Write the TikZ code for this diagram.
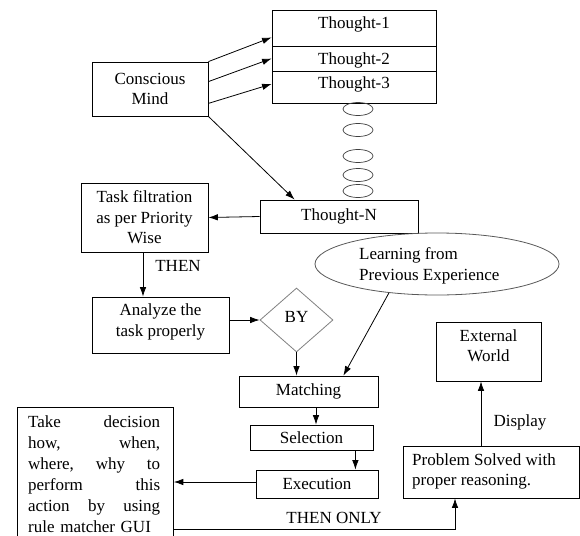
\documentclass[tikz,border=0pt]{standalone}
\usepackage{fontspec}
\setmainfont{Liberation Serif}
\usetikzlibrary{shapes.geometric,arrows.meta,calc}

\tikzset{
  box/.style={draw=black, line width=0.8pt, rectangle, inner sep=2pt, align=center},
  bubble/.style={draw=black!75, line width=0.7pt, ellipse, minimum width=30pt, minimum height=13pt, inner sep=0pt},
  arr/.style={draw=black, line width=0.8pt, -{Latex[length=9.5pt,width=6.5pt]}},
  lbl/.style={inner sep=0pt, align=center},
}

\begin{document}
\begin{tikzpicture}[x=1pt, y=-1pt, font=\fontsize{17}{20.5}\selectfont]
  \clip (0,0) rectangle (580,535);
  \fill[white] (0,0) rectangle (580,535);

  % source
  \node[box, minimum width=116pt, minimum height=54pt] (mind) at (150,89) {Conscious\\Mind};

  % stack of thoughts
  \node[box, minimum width=164pt, minimum height=36pt] (t1) at (354,28) {};
  \node[lbl] (t1l) at (354,24) {Thought-1};
  \node[box, minimum width=164pt, minimum height=25pt] (t2) at (354,58.5) {};
  \node[lbl] (t2l) at (354,60) {Thought-2};
  \node[box, minimum width=164pt, minimum height=32pt] (t3) at (354,87) {};
  \node[lbl] (t3l) at (354,84) {Thought-3};

  % chain of bubbles down to Thought-N
  \node[bubble] (b1) at (358,109) {};
  \node[bubble] (b2) at (358,130) {};
  \node[bubble] (b3) at (358,156) {};
  \node[bubble] (b4) at (358,175) {};
  \node[bubble] (b5) at (358,191) {};

  \node[box, minimum width=158pt, minimum height=33pt] (tn) at (339,216.5) {Thought-N};

  % learning ellipse
  \node[draw=black!65, line width=0.8pt, ellipse, minimum width=244pt, minimum height=62pt, inner sep=0pt] (learn) at (437,264) {};
  \node[lbl, anchor=west, align=left] (learnl) at (359,266) {Learning from\\Previous Experience};

  % left branch
  \node[box, minimum width=127pt, minimum height=69pt] (task) at (144.5,217.5) {Task filtration\\as per Priority\\Wise};
  \node[box, minimum width=137pt, minimum height=56pt] (analyze) at (160.5,325) {};
  \node[lbl] (analyzel) at (160.5,322) {Analyze the\\task properly};
  \node[draw=black!50, line width=0.8pt, diamond, minimum width=73pt, minimum height=64pt, inner sep=0pt] (by) at (296.5,320) {};
  \node[lbl] (byl) at (296.5,317) {BY};

  % matching chain
  \node[box, minimum width=139pt, minimum height=31pt] (matching) at (308.5,391.5) {Matching};
  \node[box, minimum width=123pt, minimum height=25pt] (selection) at (311.5,437.5) {Selection};
  \node[box, minimum width=122pt, minimum height=28pt] (execution) at (317,484) {Execution};

  % decision box (runs past the lower edge)
  \node[box, minimum width=156pt, minimum height=138pt, anchor=north west] (take) at (17,407) {};
  \node[anchor=north west, inner sep=0pt, text width=132pt, align=left,
        font=\fontsize{17}{21.1}\selectfont] (takel) at (28,415)
    {Take\hfill decision\\ how,\hfill when,\\ where,\hfill why\hfill to\\
     perform\hfill this\\ action\hfill by\hfill using\\ rule matcher GUI};

  % outcome
  \node[box, minimum width=176pt, minimum height=52pt] (problem) at (491,472) {};
  \node[lbl, anchor=west, align=left] (probleml) at (412,471.5) {Problem Solved with\\proper reasoning.};
  \node[box, minimum width=105pt, minimum height=59pt] (external) at (488.5,351.5) {};
  \node[lbl] (externall) at (488.5,345.5) {External\\World};

  % labels on connectors
  \node[lbl] (then) at (178,266) {THEN};
  \node[lbl] (thenonly) at (334,518) {THEN ONLY};
  \node[lbl] (display) at (520,422) {Display};

  % connectors
  \draw[arr] (mind.north east) -- ([yshift=9pt]t1.south west);
  \draw[arr] ([yshift=-20pt]mind.north east) -- (t2.west);
  \draw[arr] ([yshift=13pt]mind.south east) -- ([yshift=3pt]t3.west);
  \draw[arr] (mind.south east) -- ([xshift=35pt]tn.north west);

  \draw[arr] (tn.west) -- (task.east);
  \coordinate (ts) at ([xshift=-1.5pt]task.south);
  \draw[arr] (ts) -- (ts |- analyze.north);
  \draw[arr] (by.west -| analyze.east) -- (by.west);
  \draw[arr] (by.south) -- (by.south |- matching.north);
  \draw[arr] (learn.211) -- ([xshift=-35pt]matching.north east);

  \coordinate (ms) at ([xshift=7.5pt]matching.south);
  \draw[arr] (ms) -- (ms |- selection.north);
  \coordinate (ss) at ([xshift=-18pt]selection.south east);
  \draw[arr] (ss) -- (ss |- execution.north);
  \draw[arr] ([yshift=2pt]execution.west) -- ([yshift=2pt]execution.west -| take.east);

  \coordinate (ps) at ([xshift=-36pt]problem.south);
  \draw[arr] ([yshift=16pt]take.south east) -| (ps);
  \coordinate (pn) at ([xshift=-10pt]problem.north);
  \draw[arr] (pn) -- (pn |- external.south);
\end{tikzpicture}
\end{document}
